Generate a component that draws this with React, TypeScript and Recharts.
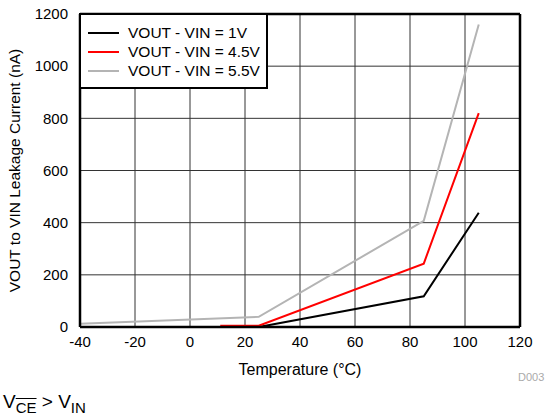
import {
  LineChart,
  Line,
  XAxis,
  YAxis,
  CartesianGrid,
  ReferenceLine,
} from "recharts";

// leakage current (nA) vs temperature (°C)
const vin1 = [
  { t: 25, v: 0 },
  { t: 85, v: 118 },
  { t: 105, v: 438 },
];
const vin45 = [
  { t: 11, v: 5 },
  { t: 25, v: 5 },
  { t: 85, v: 243 },
  { t: 105, v: 820 },
];
const vin55 = [
  { t: -40, v: 12 },
  { t: 25, v: 39 },
  { t: 85, v: 407 },
  { t: 105, v: 1160 },
];

const xTicks = [-40, -20, 0, 20, 40, 60, 80, 100, 120];
const yTicks = [0, 200, 400, 600, 800, 1000, 1200];

const series = [
  { name: "VOUT - VIN = 1V", data: vin1, color: "#000000" },
  { name: "VOUT - VIN = 4.5V", data: vin45, color: "#ff0000" },
  { name: "VOUT - VIN = 5.5V", data: vin55, color: "#b4b4b4" },
];

const font = "'Liberation Sans', Arial, sans-serif";

function LegendBox() {
  return (
    <div
      style={{
        position: "absolute",
        left: 79,
        top: 13,
        width: 189,
        height: 76,
        border: "2px solid #000",
        background: "#fff",
        paddingTop: 8,
        boxSizing: "border-box",
        fontFamily: font,
        fontSize: 15.5,
        color: "#000",
      }}
    >
      {series.map((s) => (
        <div
          key={s.name}
          style={{ display: "flex", alignItems: "center", height: 19 }}
        >
          <div
            style={{
              width: 31,
              height: 2,
              background: s.color,
              marginLeft: 7,
              marginRight: 9,
            }}
          />
          <span>{s.name}</span>
        </div>
      ))}
    </div>
  );
}

export default function App() {
  return (
    <div
      style={{
        position: "absolute",
        left: 0,
        top: 0,
        width: 546,
        height: 416,
        background: "#fff",
        fontFamily: font,
      }}
    >
      <LineChart
        width={546}
        height={416}
        margin={{ top: 14, right: 26, left: 0, bottom: 59 }}
      >
        <CartesianGrid stroke="#333" strokeWidth={1} vertical horizontal />
        <XAxis
          type="number"
          dataKey="t"
          domain={[-40, 120]}
          ticks={xTicks}
          allowDataOverflow
          height={30}
          tickLine={false}
          axisLine={{ stroke: "#000", strokeWidth: 2.5 }}
          tick={{ fill: "#000", fontSize: 15, fontFamily: font }}
          tickMargin={3}
          label={{
            value: "Temperature (°C)",
            position: "insideBottom",
            offset: -18,
            fill: "#000",
            fontSize: 16,
            fontFamily: font,
          }}
        />
        <YAxis
          type="number"
          domain={[0, 1200]}
          ticks={yTicks}
          width={80}
          tickLine={false}
          axisLine={{ stroke: "#000", strokeWidth: 2.5 }}
          tick={{ fill: "#000", fontSize: 15, fontFamily: font }}
          tickMargin={6}
          label={{
            value: "VOUT to VIN Leakage Current (nA)",
            angle: -90,
            position: "insideLeft",
            offset: 14,
            style: { textAnchor: "middle" },
            fill: "#000",
            fontSize: 15.5,
            fontFamily: font,
          }}
        />
        <ReferenceLine y={1200} stroke="#000" strokeWidth={2.5} />
        <ReferenceLine x={120} stroke="#000" strokeWidth={2.5} />
        {series.map((s) => (
          <Line
            key={s.name}
            data={s.data}
            dataKey="v"
            name={s.name}
            type="linear"
            stroke={s.color}
            strokeWidth={2}
            dot={false}
            activeDot={false}
            isAnimationActive={false}
          />
        ))}
      </LineChart>
      <LegendBox />
      <div
        style={{
          position: "absolute",
          left: 518,
          top: 371,
          fontSize: 11,
          color: "#aaa",
        }}
      >
        D003
      </div>
      <div
        style={{
          position: "absolute",
          left: 3,
          top: 391,
          fontSize: 19,
          color: "#000",
        }}
      >
        V
        <sub style={{ fontSize: 15, textDecoration: "overline" }}>CE</sub>
        {" > V"}
        <sub style={{ fontSize: 15 }}>IN</sub>
      </div>
    </div>
  );
}
